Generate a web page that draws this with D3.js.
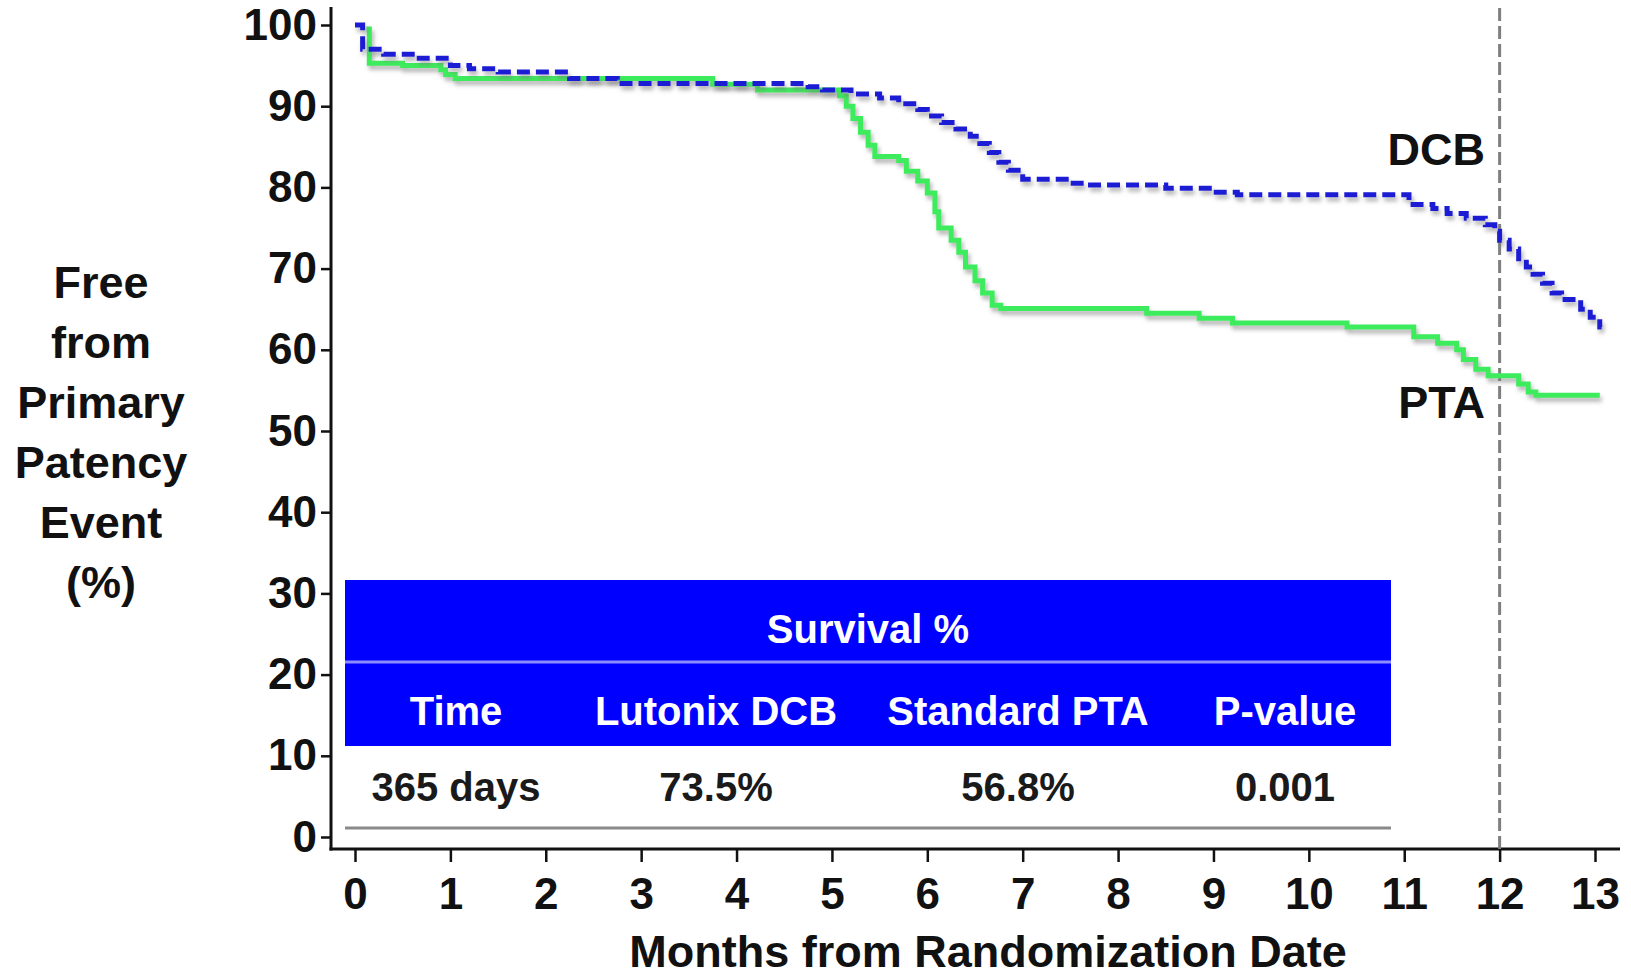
<!DOCTYPE html>
<html>
<head>
<meta charset="utf-8">
<script src="https://cdn.jsdelivr.net/npm/d3@7"></script>
<style>
  html, body { margin: 0; padding: 0; background: #fff; }
  svg { display: block; font-family: "Liberation Sans", Arial, sans-serif; font-weight: bold; }
</style>
</head>
<body>
<svg id="chart" width="1631" height="977"></svg>
<script>
// Kaplan-Meier step points: [month, % free from primary patency event]
const dcbCurve = [
  [0, 100], [0.08, 97.0], [0.3, 96.4], [0.6, 95.9], [1.0, 95.0], [1.2, 94.6],
  [1.5, 94.2], [2.25, 93.4], [2.75, 92.8], [4.75, 92.4], [4.9, 92.0], [5.2, 91.5],
  [5.5, 91.0], [5.7, 90.3], [5.9, 89.6], [6.0, 88.8], [6.15, 88.0], [6.3, 87.2],
  [6.45, 86.3], [6.55, 85.4], [6.65, 84.3], [6.75, 83.1], [6.85, 82.1], [7.0, 81.0],
  [7.5, 80.5], [7.65, 80.3], [8.5, 79.9], [9.0, 79.4], [9.25, 79.1], [11.05, 77.9],
  [11.3, 77.4], [11.45, 76.8], [11.65, 76.2], [11.85, 75.4], [11.95, 74.6], [12.0, 73.5],
  [12.1, 72.4], [12.2, 71.2], [12.28, 70.2], [12.35, 69.3], [12.45, 68.2], [12.55, 67.0],
  [12.65, 66.2], [12.85, 65.0], [12.95, 64.0], [13.05, 62.8], [13.07, 62.8]
];
const ptaCurve = [
  [0.12, 99.5], [0.15, 95.3], [0.5, 95.0], [0.9, 94.5], [0.95, 93.9], [1.05, 93.4],
  [3.75, 92.7], [4.22, 92.0], [5.08, 91.3], [5.15, 90.0], [5.22, 88.5], [5.3, 86.8],
  [5.38, 85.2], [5.45, 83.8], [5.7, 83.3], [5.78, 82.0], [5.9, 80.8], [6.0, 79.3],
  [6.08, 77.0], [6.12, 75.0], [6.25, 73.5], [6.33, 72.0], [6.4, 70.2], [6.5, 68.5],
  [6.58, 67.0], [6.68, 65.5], [6.77, 65.1], [8.3, 64.5], [8.85, 63.9], [9.2, 63.3],
  [10.4, 62.8], [11.1, 61.6], [11.35, 60.8], [11.55, 60.0], [11.62, 58.8], [11.75, 57.6],
  [11.88, 56.8], [12.2, 55.8], [12.3, 54.8], [12.38, 54.4], [13.05, 54.4]
];

const xTicks = d3.range(0, 14);
const yTicks = d3.range(0, 101, 10);
const landmarkMonth = 12;

const yTitleLines = ["Free", "from", "Primary", "Patency", "Event", "(%)"];
const xTitle = "Months from Randomization Date";
const seriesLabels = ["DCB", "PTA"];

// Survival table contents
const tableTitle = "Survival %";
const tableHeaders = ["Time", "Lutonix DCB", "Standard PTA", "P-value"];
const tableRow = ["365 days", "73.5%", "56.8%", "0.001"];

const svg = d3.select("#chart");

const x = d3.scaleLinear().domain([0, 13]).range([355, 1595]);
const y = d3.scaleLinear().domain([0, 100]).range([837, 25]);

const axisX = 331;   // position of the vertical axis line
const axisY = 849;   // position of the horizontal axis line

// soft shadow under the survival curves
const defs = svg.append("defs");
const f = defs.append("filter").attr("id", "shadow")
  .attr("x", "-5%").attr("y", "-5%").attr("width", "110%").attr("height", "120%");
f.append("feDropShadow").attr("dx", 2).attr("dy", 4).attr("stdDeviation", 2)
  .attr("flood-color", "#777").attr("flood-opacity", 0.55);

// Y axis
const gy = svg.append("g").attr("transform", `translate(${axisX},0)`)
  .call(d3.axisLeft(y).tickValues(yTicks).tickSize(10).tickPadding(4));
gy.select(".domain").remove();
gy.selectAll(".tick line").attr("stroke", "#111").attr("stroke-width", 2.5);
gy.selectAll(".tick text").attr("fill", "#111")
  .style("font-size", "44px").style("font-family", "'Liberation Sans', Arial, sans-serif")
  .style("font-weight", "bold");
svg.append("line").attr("x1", axisX).attr("x2", axisX).attr("y1", 7).attr("y2", axisY + 1.5)
  .attr("stroke", "#111").attr("stroke-width", 3);

// X axis
const gx = svg.append("g").attr("transform", `translate(0,${axisY})`)
  .call(d3.axisBottom(x).tickValues(xTicks).tickSize(13).tickPadding(16));
gx.select(".domain").remove();
gx.selectAll(".tick line").attr("stroke", "#111").attr("stroke-width", 2.5);
gx.selectAll(".tick text").attr("fill", "#111")
  .style("font-size", "44px").style("font-family", "'Liberation Sans', Arial, sans-serif")
  .style("font-weight", "bold");
svg.append("line").attr("x1", axisX - 1.5).attr("x2", 1620).attr("y1", axisY).attr("y2", axisY)
  .attr("stroke", "#111").attr("stroke-width", 3);

// Axis titles
svg.append("text").attr("x", 988).attr("y", 967).attr("text-anchor", "middle")
  .attr("fill", "#111").style("font-size", "45px").text(xTitle);

svg.append("g").selectAll("text").data(yTitleLines).join("text")
  .attr("x", 101).attr("y", (d, i) => 298 + i * 60).attr("text-anchor", "middle")
  .attr("fill", "#111").style("font-size", "45px").text(d => d);

// 12-month landmark
svg.append("line")
  .attr("x1", x(landmarkMonth)).attr("x2", x(landmarkMonth))
  .attr("y1", 8).attr("y2", axisY)
  .attr("stroke", "#7f7f7f").attr("stroke-width", 3).attr("stroke-dasharray", "13,5");

// Survival curves
const line = d3.line().x(d => x(d[0])).y(d => y(d[1])).curve(d3.curveStepAfter);

svg.append("path").datum(ptaCurve).attr("d", line)
  .attr("fill", "none").attr("stroke", "#3cec5c").attr("stroke-width", 5)
  .attr("filter", "url(#shadow)");

svg.append("path").datum(dcbCurve).attr("d", line)
  .attr("fill", "none").attr("stroke", "#1c1cd4").attr("stroke-width", 5)
  .attr("stroke-dasharray", "13,6").attr("filter", "url(#shadow)");

// Series labels
svg.append("text").attr("x", 1485).attr("y", 165).attr("text-anchor", "end")
  .attr("fill", "#111").style("font-size", "45px").text(seriesLabels[0]);
svg.append("text").attr("x", 1485).attr("y", 418).attr("text-anchor", "end")
  .attr("fill", "#111").style("font-size", "45px").text(seriesLabels[1]);

// Survival table
const tbl = { left: 345, right: 1391, top: 580, mid: 662, bottom: 746, rule: 828 };
const colCenters = [111, 371, 673, 940].map(o => tbl.left + o);

const gt = svg.append("g");
gt.append("rect").attr("x", tbl.left).attr("y", tbl.top)
  .attr("width", tbl.right - tbl.left).attr("height", tbl.bottom - tbl.top)
  .attr("fill", "#0000ff");
gt.append("line").attr("x1", tbl.left).attr("x2", tbl.right).attr("y1", tbl.mid).attr("y2", tbl.mid)
  .attr("stroke", "#8c8cff").attr("stroke-width", 3);
gt.append("text").attr("x", (tbl.left + tbl.right) / 2).attr("y", 643).attr("text-anchor", "middle")
  .attr("fill", "#fff").style("font-size", "40px").text(tableTitle);
gt.selectAll("text.hdr").data(tableHeaders).join("text").attr("class", "hdr")
  .attr("x", (d, i) => colCenters[i]).attr("y", 725).attr("text-anchor", "middle")
  .attr("fill", "#fff").style("font-size", "40px").text(d => d);
gt.selectAll("text.val").data(tableRow).join("text").attr("class", "val")
  .attr("x", (d, i) => colCenters[i]).attr("y", 801).attr("text-anchor", "middle")
  .attr("fill", "#1a1a1a").style("font-size", "40px").text(d => d);
gt.append("line").attr("x1", tbl.left).attr("x2", tbl.right).attr("y1", tbl.rule).attr("y2", tbl.rule)
  .attr("stroke", "#8a8a8a").attr("stroke-width", 3);
</script>
</body>
</html>
